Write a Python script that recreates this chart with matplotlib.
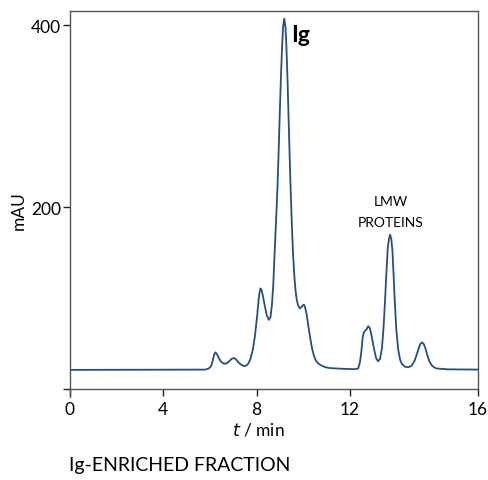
import matplotlib
matplotlib.use('Agg')
import matplotlib.pyplot as plt

plt.rcParams['font.family'] = ['Lato', 'DejaVu Sans']

# chromatogram (time in min, absorbance in mAU)
time_min = [0, 5.8, 5.95, 6.05, 6.12, 6.18, 6.24, 6.3, 6.38, 6.48, 6.6, 6.72,
            6.85, 6.95, 7.02, 7.1, 7.2, 7.32, 7.45, 7.55, 7.65, 7.74, 7.84,
            7.93, 8.03, 8.09, 8.13, 8.17, 8.21, 8.27, 8.35, 8.44, 8.53, 8.6,
            8.66, 8.72, 8.77, 8.83, 8.9, 8.95, 9.0, 9.05, 9.1, 9.14, 9.19, 9.24,
            9.28, 9.33, 9.4, 9.47, 9.52, 9.57, 9.62, 9.67, 9.72, 9.78, 9.86,
            9.93, 9.98, 10.03, 10.08, 10.15, 10.23, 10.31, 10.38, 10.46, 10.55,
            10.65, 10.78, 10.95, 11.14, 11.6, 12.2, 12.36, 12.44, 12.5, 12.55,
            12.6, 12.66, 12.73, 12.79, 12.86, 12.94, 13.04, 13.13, 13.21,
            13.3, 13.38, 13.45, 13.51, 13.57, 13.63, 13.68, 13.73, 13.78,
            13.83, 13.88, 13.93, 14.0, 14.08, 14.16, 14.25, 14.37, 14.5, 14.65,
            14.78, 14.88, 14.96, 15.03, 15.1, 15.17, 15.24, 15.32, 15.42,
            15.55, 15.71, 16.2, 17.5]
mau = [21, 21.3, 22.5, 25, 31, 37.5, 40.3, 38.5, 34, 30, 27.8, 28,
       31, 33.5, 34, 33, 30, 27, 25.3, 25.5, 28, 33, 43,
       58, 81, 98, 106, 110.5, 109, 103, 92, 81, 76, 79,
       92, 115, 146, 180, 222, 262, 305, 345, 378, 398, 407, 398,
       378, 340, 275, 214, 178, 147, 125, 109, 99, 92, 88.6,
       90, 91.8, 92.7, 90, 82, 68, 55, 45, 36.6, 31,
       28, 25.8, 24, 23, 22.3, 21.8, 22.5, 30, 42, 56,
       62, 63.8, 66, 69, 67, 58, 44, 34, 30.4,
       33, 45, 68, 96, 127, 155, 165, 169.6, 165,
       152, 125, 96, 64, 43, 32, 27, 24.5, 23.8, 25.5,
       31, 38.5, 45, 49.5, 51.3, 49.5, 45, 37.5, 30,
       25, 22.6, 21.6, 21.3]

xtick_pos = [0, 4, 8, 12, 17.5]
xtick_labels = ['0', '4', '8', '12', '16']
ytick_pos = [0, 200, 400]
ytick_labels = ['', '200', '400']

fig = plt.figure(figsize=(4.89, 4.81), dpi=100)
ax = fig.add_axes([70 / 489, 1 - 398 / 481, 408 / 489, 386 / 481])

ax.plot(time_min, mau, color='#24507e', lw=1.3)

ax.set_xlim(0, 17.5)
ax.set_ylim(-8.8, 415.4)
ax.set_xticks(xtick_pos)
ax.set_xticklabels(xtick_labels)
ax.set_yticks(ytick_pos)
ax.set_yticklabels(ytick_labels)

spine_col = '#555555'
for s in ax.spines.values():
    s.set_color(spine_col)
    s.set_linewidth(1.0)
ax.spines['bottom'].set_position(('data', 0))
ax.spines['right'].set_bounds(0, 415.4)

ax.tick_params(axis='x', direction='out', length=5, width=1, color='#222222',
               labelsize=12.5, pad=4)
ax.tick_params(axis='y', direction='out', length=5, width=1, color='#222222',
               labelsize=12.5, pad=1.5)

ax.text(9.5, 390, 'Ig', fontsize=16.5, fontweight='bold', ha='left', va='center')
ax.text(13.75, 195, 'LMW\nPROTEINS', fontsize=10, ha='center', va='center',
        linespacing=1.85)

fig.text(258 / 489, 1 - 430 / 481, '$t$ / min', fontsize=12.5, ha='center', va='center')
fig.text(19 / 489, 1 - 211 / 481, 'mAU', fontsize=12.5, rotation=90,
         ha='center', va='center')
fig.text(69 / 489, 1 - 466 / 481, 'Ig-ENRICHED FRACTION', fontsize=14,
         ha='left', va='center')

fig.savefig('out.png', dpi=100)
